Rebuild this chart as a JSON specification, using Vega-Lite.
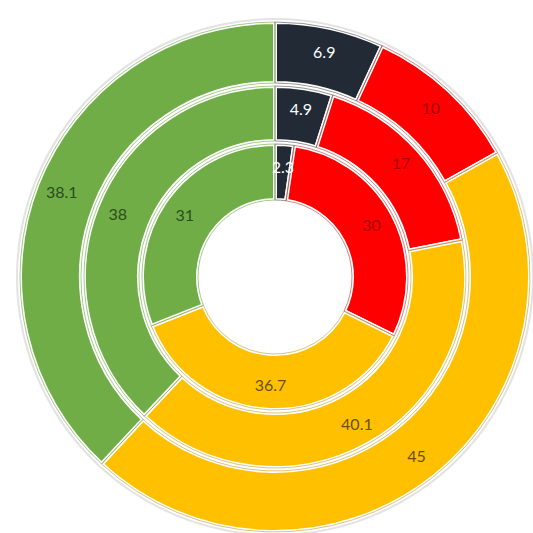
{
  "$schema": "https://vega.github.io/schema/vega-lite/v6.json",
  "width": 516,
  "height": 512,
  "autosize": "none",
  "padding": {"left": 17, "top": 21, "right": 0, "bottom": 0},
  "background": "white",
  "config": {"view": {"stroke": null}},
  "data": {
    "values": [
      {"ring": "outer", "cat": "Dark", "o": 1, "value": 6.9},
      {"ring": "outer", "cat": "Red", "o": 2, "value": 10},
      {"ring": "outer", "cat": "Yellow", "o": 3, "value": 45},
      {"ring": "outer", "cat": "Green", "o": 4, "value": 38.1},
      {"ring": "middle", "cat": "Dark", "o": 1, "value": 4.9},
      {"ring": "middle", "cat": "Red", "o": 2, "value": 17},
      {"ring": "middle", "cat": "Yellow", "o": 3, "value": 40.1},
      {"ring": "middle", "cat": "Green", "o": 4, "value": 38},
      {"ring": "inner", "cat": "Dark", "o": 1, "value": 2.3},
      {"ring": "inner", "cat": "Red", "o": 2, "value": 30},
      {"ring": "inner", "cat": "Yellow", "o": 3, "value": 36.7},
      {"ring": "inner", "cat": "Green", "o": 4, "value": 31}
    ]
  },
  "encoding": {
    "theta": {"field": "value", "type": "quantitative", "stack": true, "scale": {"domain": [0, 100]}},
    "order": {"field": "o", "type": "quantitative"}
  },
  "layer": [
    {"mark": {"type": "arc", "radius": 259, "radius2": 252, "fill": "#c8c8c8", "opacity": 0.5}, "encoding": {"theta": null, "order": null}, "transform": [{"filter": "datum.ring == 'outer' && datum.o == 1"}]},
    {
      "transform": [{"filter": "datum.ring == 'outer'"}],
      "mark": {"type": "arc", "radius": 255, "radius2": 194, "stroke": "white", "strokeWidth": 4},
      "encoding": {"color": {"field": "cat", "type": "nominal", "legend": null, "scale": {"domain": ["Dark", "Red", "Yellow", "Green"], "range": ["#222a35", "#ff0000", "#ffc000", "#70ad47"]}}}
    },
    {
      "transform": [{"filter": "datum.ring == 'outer'"}],
      "mark": {"type": "arc", "radius": 255, "radius2": 194, "fillOpacity": 0, "strokeWidth": 0.9, "strokeOpacity": 0.7},
      "encoding": {"stroke": {"field": "cat", "type": "nominal", "legend": null, "scale": {"domain": ["Dark", "Red", "Yellow", "Green"], "range": ["#555555", "#c04040", "#c8a030", "#70ad47"]}}}
    },
    {
      "transform": [{"filter": "datum.ring == 'middle'"}],
      "mark": {"type": "arc", "radius": 191, "radius2": 136, "stroke": "white", "strokeWidth": 4},
      "encoding": {"color": {"field": "cat", "type": "nominal", "legend": null}}
    },
    {
      "transform": [{"filter": "datum.ring == 'middle'"}],
      "mark": {"type": "arc", "radius": 191, "radius2": 136, "fillOpacity": 0, "strokeWidth": 0.9, "strokeOpacity": 0.7},
      "encoding": {"stroke": {"field": "cat", "type": "nominal", "legend": null}}
    },
    {
      "transform": [{"filter": "datum.ring == 'inner'"}],
      "mark": {"type": "arc", "radius": 133, "radius2": 77, "stroke": "white", "strokeWidth": 4},
      "encoding": {"color": {"field": "cat", "type": "nominal", "legend": null}}
    },
    {
      "transform": [{"filter": "datum.ring == 'inner'"}],
      "mark": {"type": "arc", "radius": 133, "radius2": 77, "fillOpacity": 0, "strokeWidth": 0.9, "strokeOpacity": 0.7},
      "encoding": {"stroke": {"field": "cat", "type": "nominal", "legend": null}}
    },
    {
      "transform": [{"filter": "datum.ring == 'outer'"}],
      "mark": {"type": "text", "radius": 229, "font": "Lato", "fontSize": 16},
      "encoding": {"text": {"field": "value", "type": "quantitative"}, "fill": {"field": "cat", "type": "nominal", "legend": null, "scale": {"domain": ["Dark", "Red", "Yellow", "Green"], "range": ["#ffffff", "#a80000", "#6a5010", "#2c4d1c"]}}}
    },
    {
      "transform": [{"filter": "datum.ring == 'middle'"}],
      "mark": {"type": "text", "radius": 169, "font": "Lato", "fontSize": 16},
      "encoding": {"text": {"field": "value", "type": "quantitative"}, "fill": {"field": "cat", "type": "nominal", "legend": null}}
    },
    {
      "transform": [{"filter": "datum.ring == 'inner'"}],
      "mark": {"type": "text", "radius": 109, "font": "Lato", "fontSize": 16},
      "encoding": {"text": {"field": "value", "type": "quantitative"}, "fill": {"field": "cat", "type": "nominal", "legend": null}}
    }
  ]
}
